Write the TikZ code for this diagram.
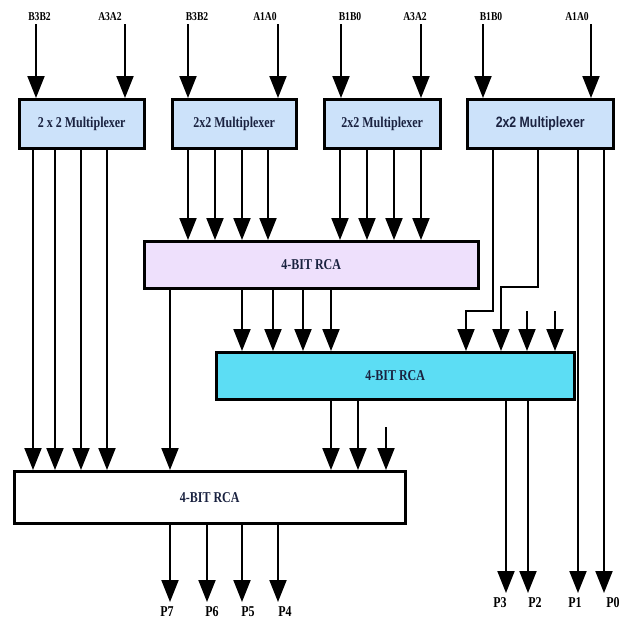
\documentclass[tikz,border=0pt]{standalone}
\usepackage{fontspec}
\setmainfont{Liberation Serif}[FakeStretch=0.8]
\newfontfamily\muxsans{Liberation Sans}[FakeStretch=0.82]
\usetikzlibrary{arrows.meta}
\definecolor{muxblue}{RGB}{204,226,250}
\definecolor{rcalilac}{RGB}{238,224,252}
\definecolor{rcacyan}{RGB}{92,221,244}
\definecolor{boxtext}{RGB}{26,34,64}
\begin{document}
\begin{tikzpicture}[x=1pt,y=-1pt,line width=2pt,
  arr/.style={-{Triangle[length=22pt,width=17pt]}},
  blk/.style={draw,line width=2.5pt,anchor=north west,inner sep=0pt,text=boxtext,font=\fontsize{15}{18}\selectfont\bfseries},
  lbl/.style={inner sep=2pt,font=\fontsize{12}{14}\selectfont\bfseries},
  plbl/.style={anchor=north,inner sep=0pt,font=\fontsize{15}{18}\selectfont\bfseries}]
\path[use as bounding box] (0,0) rectangle (622,625);
% multiplexers
\node[blk,fill=muxblue,minimum width=125pt,minimum height=49pt] (mux1) at (18,98) {2 x 2 Multiplexer};
\node[blk,fill=muxblue,minimum width=124pt,minimum height=49pt] (mux2) at (171,98) {2x2 Multiplexer};
\node[blk,fill=muxblue,minimum width=116pt,minimum height=49pt] (mux3) at (323,98) {2x2 Multiplexer};
\node[blk,fill=muxblue,minimum width=146pt,minimum height=49pt,font=\fontsize{15}{18}\selectfont\muxsans\bfseries] (mux4) at (466,98) {2x2 Multiplexer};
% adders
\node[blk,fill=rcalilac,minimum width=334pt,minimum height=47pt] (rca1) at (143,240) {4-BIT RCA};
\node[blk,fill=rcacyan,minimum width=358pt,minimum height=47pt] (rca2) at (215,351) {4-BIT RCA};
\node[blk,fill=white,minimum width=391pt,minimum height=52pt] (rca3) at (13,470) {4-BIT RCA};
% inputs
\node[lbl] (in1b) at (39.5,17) {B3B2};
\node[lbl] (in1a) at (110,17) {A3A2};
\node[lbl] (in2b) at (197,17) {B3B2};
\node[lbl] (in2a) at (265,17) {A1A0};
\node[lbl] (in3b) at (350,17) {B1B0};
\node[lbl] (in3a) at (415,17) {A3A2};
\node[lbl] (in4b) at (491,17) {B1B0};
\node[lbl] (in4a) at (577,17) {A1A0};
\draw[arr] (36,0 |- in1b.south) -- (36,0 |- mux1.north);
\draw[arr] (125,0 |- in1a.south) -- (125,0 |- mux1.north);
\draw[arr] (188,0 |- in2b.south) -- (188,0 |- mux2.north);
\draw[arr] (278,0 |- in2a.south) -- (278,0 |- mux2.north);
\draw[arr] (341,0 |- in3b.south) -- (341,0 |- mux3.north);
\draw[arr] (421,0 |- in3a.south) -- (421,0 |- mux3.north);
\draw[arr] (483,0 |- in4b.south) -- (483,0 |- mux4.north);
\draw[arr] (591,0 |- in4a.south) -- (591,0 |- mux4.north);
% mux outputs
\draw[arr] (33,0 |- mux1.south) -- (33,0 |- rca3.north);
\draw[arr] (55,0 |- mux1.south) -- (55,0 |- rca3.north);
\draw[arr] (81,0 |- mux1.south) -- (81,0 |- rca3.north);
\draw[arr] (107,0 |- mux1.south) -- (107,0 |- rca3.north);
\draw[arr] (188,0 |- mux2.south) -- (188,0 |- rca1.north);
\draw[arr] (215,0 |- mux2.south) -- (215,0 |- rca1.north);
\draw[arr] (242,0 |- mux2.south) -- (242,0 |- rca1.north);
\draw[arr] (268,0 |- mux2.south) -- (268,0 |- rca1.north);
\draw[arr] (340,0 |- mux3.south) -- (340,0 |- rca1.north);
\draw[arr] (367,0 |- mux3.south) -- (367,0 |- rca1.north);
\draw[arr] (394,0 |- mux3.south) -- (394,0 |- rca1.north);
\draw[arr] (421,0 |- mux3.south) -- (421,0 |- rca1.north);
\coordinate (bend1) at (466,311);
\coordinate (bend2) at (501,287);
\draw[arr] (493,0 |- mux4.south) |- (bend1) -- (bend1 |- rca2.north);
\draw[arr] (538,0 |- mux4.south) |- (bend2) -- (bend2 |- rca2.north);
% carries in
\coordinate (cin1) at (527,311);
\coordinate (cin2) at (555,311);
\coordinate (cin3) at (386,427);
\draw[arr] (cin1) -- (cin1 |- rca2.north);
\draw[arr] (cin2) -- (cin2 |- rca2.north);
\draw[arr] (cin3) -- (cin3 |- rca3.north);
% adder outputs
\draw[arr] (170,0 |- rca1.south) -- (170,0 |- rca3.north);
\draw[arr] (242,0 |- rca1.south) -- (242,0 |- rca2.north);
\draw[arr] (273,0 |- rca1.south) -- (273,0 |- rca2.north);
\draw[arr] (303,0 |- rca1.south) -- (303,0 |- rca2.north);
\draw[arr] (331,0 |- rca1.south) -- (331,0 |- rca2.north);
\draw[arr] (331,0 |- rca2.south) -- (331,0 |- rca3.north);
\draw[arr] (358,0 |- rca2.south) -- (358,0 |- rca3.north);
% products
\node[plbl] (p7) at (167,606) {P7};
\node[plbl] (p6) at (212,606) {P6};
\node[plbl] (p5) at (248,606) {P5};
\node[plbl] (p4) at (285,606) {P4};
\node[plbl] (p3) at (500,597) {P3};
\node[plbl] (p2) at (535,597) {P2};
\node[plbl] (p1) at (575,597) {P1};
\node[plbl] (p0) at (613,597) {P0};
\draw[arr,shorten >=4pt] (170,0 |- rca3.south) -- (170,0 |- p7.north);
\draw[arr,shorten >=4pt] (207,0 |- rca3.south) -- (207,0 |- p6.north);
\draw[arr,shorten >=4pt] (242,0 |- rca3.south) -- (242,0 |- p5.north);
\draw[arr,shorten >=4pt] (278,0 |- rca3.south) -- (278,0 |- p4.north);
\draw[arr,shorten >=4pt] (506,0 |- rca2.south) -- (506,0 |- p3.north);
\draw[arr,shorten >=4pt] (528,0 |- rca2.south) -- (528,0 |- p2.north);
\draw[arr,shorten >=4pt] (578,0 |- mux4.south) -- (578,0 |- p1.north);
\draw[arr,shorten >=4pt] (604,0 |- mux4.south) -- (604,0 |- p0.north);
\end{tikzpicture}
\end{document}
